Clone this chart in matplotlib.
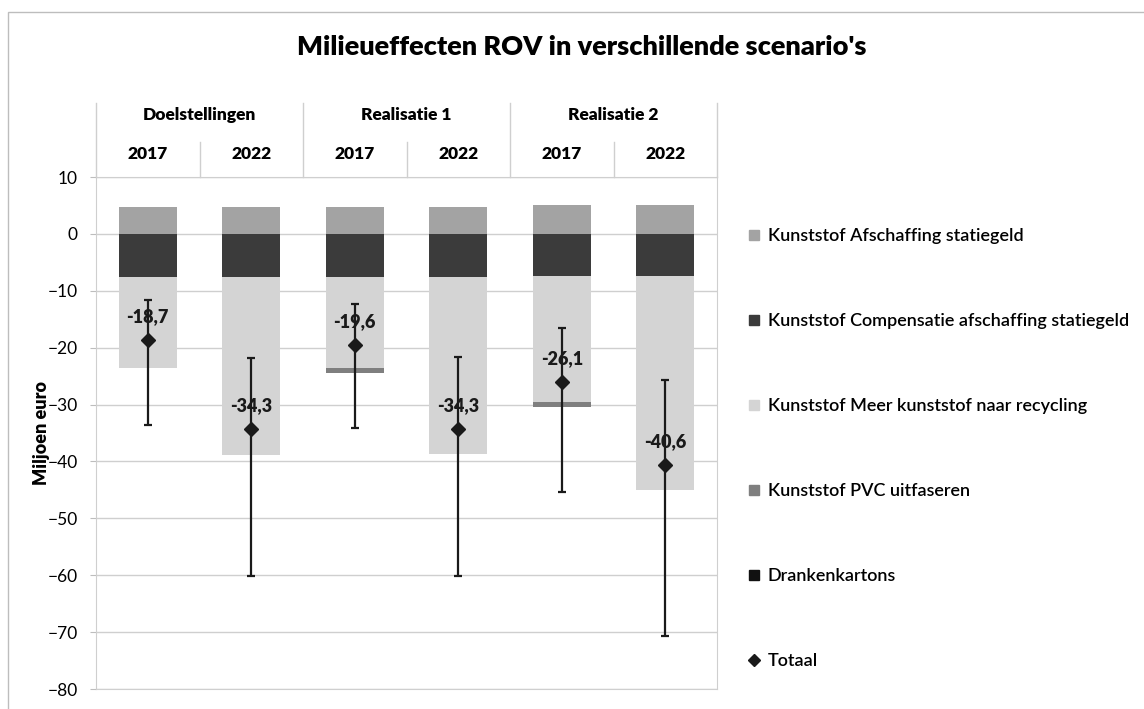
import matplotlib
matplotlib.use("Agg")
import matplotlib.pyplot as plt
from matplotlib.lines import Line2D
from matplotlib.patches import Rectangle

plt.rcParams['font.family'] = ['Lato', 'DejaVu Sans']

# data (miljoen euro)
groepen = ["Doelstellingen", "Realisatie 1", "Realisatie 2"]
jaren = ["2017", "2022", "2017", "2022", "2017", "2022"]
afschaffing = [4.7, 4.7, 4.8, 4.8, 5.0, 5.0]
compensatie = [-7.6, -7.6, -7.5, -7.5, -7.4, -7.4]
meer_recycling = [-16.0, -31.2, -16.1, -31.2, -22.1, -37.6]
pvc = [0.0, 0.0, -0.8, 0.0, -1.0, 0.0]
drankenkartons = [0.0, 0.0, 0.0, 0.0, 0.0, 0.0]
totaal = [-18.7, -34.3, -19.6, -34.3, -26.1, -40.6]
fout_boven = [-11.6, -21.8, -12.4, -21.6, -16.5, -25.7]
fout_onder = [-33.6, -60.2, -34.2, -60.2, -45.3, -70.6]

kleur_afsch = '#a3a3a3'
kleur_comp = '#3b3b3b'
kleur_recyc = '#d4d4d4'
kleur_pvc = '#7f7f7f'
kleur_drank = '#111111'

fig = plt.figure(figsize=(11.44, 7.09), dpi=100)
ax = fig.add_axes([96 / 1144, 1 - 689 / 709, 621 / 1144, 512 / 709])

x = list(range(len(jaren)))
w = 0.56

# positieve stapel
ax.bar(x, afschaffing, w, color=kleur_afsch, zorder=2)
# negatieve stapel
ax.bar(x, compensatie, w, color=kleur_comp, zorder=2)
bodem = compensatie[:]
ax.bar(x, meer_recycling, w, bottom=bodem, color=kleur_recyc, zorder=2)
bodem = [b + v for b, v in zip(bodem, meer_recycling)]
ax.bar(x, pvc, w, bottom=bodem, color=kleur_pvc, zorder=2)
bodem = [b + v for b, v in zip(bodem, pvc)]
ax.bar(x, drankenkartons, w, bottom=bodem, color=kleur_drank, zorder=2)

# totaal met foutbalken
err = [[t - o for t, o in zip(totaal, fout_onder)],
       [b - t for t, b in zip(totaal, fout_boven)]]
ax.errorbar(x, totaal, yerr=err, fmt='D', color='#1a1a1a', markersize=7,
            ecolor='#1a1a1a', elinewidth=1.6, capsize=3, capthick=1.6, zorder=4)

for xi, t in zip(x, totaal):
    ax.annotate(f"{t:.1f}".replace('.', ','), (xi, t), xytext=(0, 17),
                textcoords='offset points', ha='center', va='center',
                fontsize=13, fontweight='heavy', color='#1a1a1a', zorder=5)

ax.set_ylim(-80, 10)
ax.set_xlim(-0.5, 5.5)
ax.set_yticks(range(-80, 11, 10))
ax.tick_params(axis='y', labelsize=12.5, length=4, color='#bdbdbd', pad=9)
ax.set_xticks([])
ax.grid(axis='y', color='#cfcfcf', linewidth=1, zorder=0)
for s in ax.spines.values():
    s.set_color('#cfcfcf')
ax.set_ylabel('Miljoen euro', fontsize=13, fontweight='heavy')
ax.yaxis.set_label_coords(-0.074, 0.5)

# categorie-as bovenaan
tr = ax.get_xaxis_transform()
for xi, jaar in zip(x, jaren):
    ax.text(xi, 1.045, jaar, transform=tr, ha='center', va='center',
            fontsize=12.5, fontweight='heavy')
for i, g in enumerate(groepen):
    ax.text(2 * i + 0.5, 1.121, g, transform=tr, ha='center', va='center',
            fontsize=12.5, fontweight='heavy')
for xg in [-0.5, 1.5, 3.5, 5.5]:
    ax.plot([xg, xg], [1.0, 1.145], transform=tr, color='#cfcfcf', lw=1, clip_on=False)
for xj in [0.5, 2.5, 4.5]:
    ax.plot([xj, xj], [1.0, 1.068], transform=tr, color='#cfcfcf', lw=1, clip_on=False)

fig.text(582 / 1144, 1 - 47 / 709, "Milieueffecten ROV in verschillende scenario's",
         ha='center', va='center', fontsize=19.5, fontweight='heavy')

# legenda
handles = [
    Line2D([], [], marker='s', ls='none', color=kleur_afsch, markersize=7),
    Line2D([], [], marker='s', ls='none', color=kleur_comp, markersize=7),
    Line2D([], [], marker='s', ls='none', color=kleur_recyc, markersize=7),
    Line2D([], [], marker='s', ls='none', color=kleur_pvc, markersize=7),
    Line2D([], [], marker='s', ls='none', color=kleur_drank, markersize=7),
    Line2D([], [], marker='D', ls='none', color='#1a1a1a', markersize=6),
]
labels = ["Kunststof Afschaffing statiegeld",
          "Kunststof Compensatie afschaffing statiegeld",
          "Kunststof Meer kunststof naar recycling",
          "Kunststof PVC uitfaseren",
          "Drankenkartons",
          "Totaal"]
leg = fig.legend(handles, labels, loc='upper left', bbox_to_anchor=(748 / 1144, 1 - 228 / 709),
                 frameon=False, prop={'size': 13, 'weight': 'semibold'},
                 labelspacing=3.82, handlelength=0.7, handletextpad=0.4,
                 borderaxespad=0, borderpad=0)

# kader van de grafiek
fig.patches.append(Rectangle((8 / 1144, -0.01), 1.2, 1 - 12 / 709 + 0.01,
                             transform=fig.transFigure, fill=False,
                             edgecolor='#bdbdbd', lw=1))

fig.savefig('out.png', dpi=100)
